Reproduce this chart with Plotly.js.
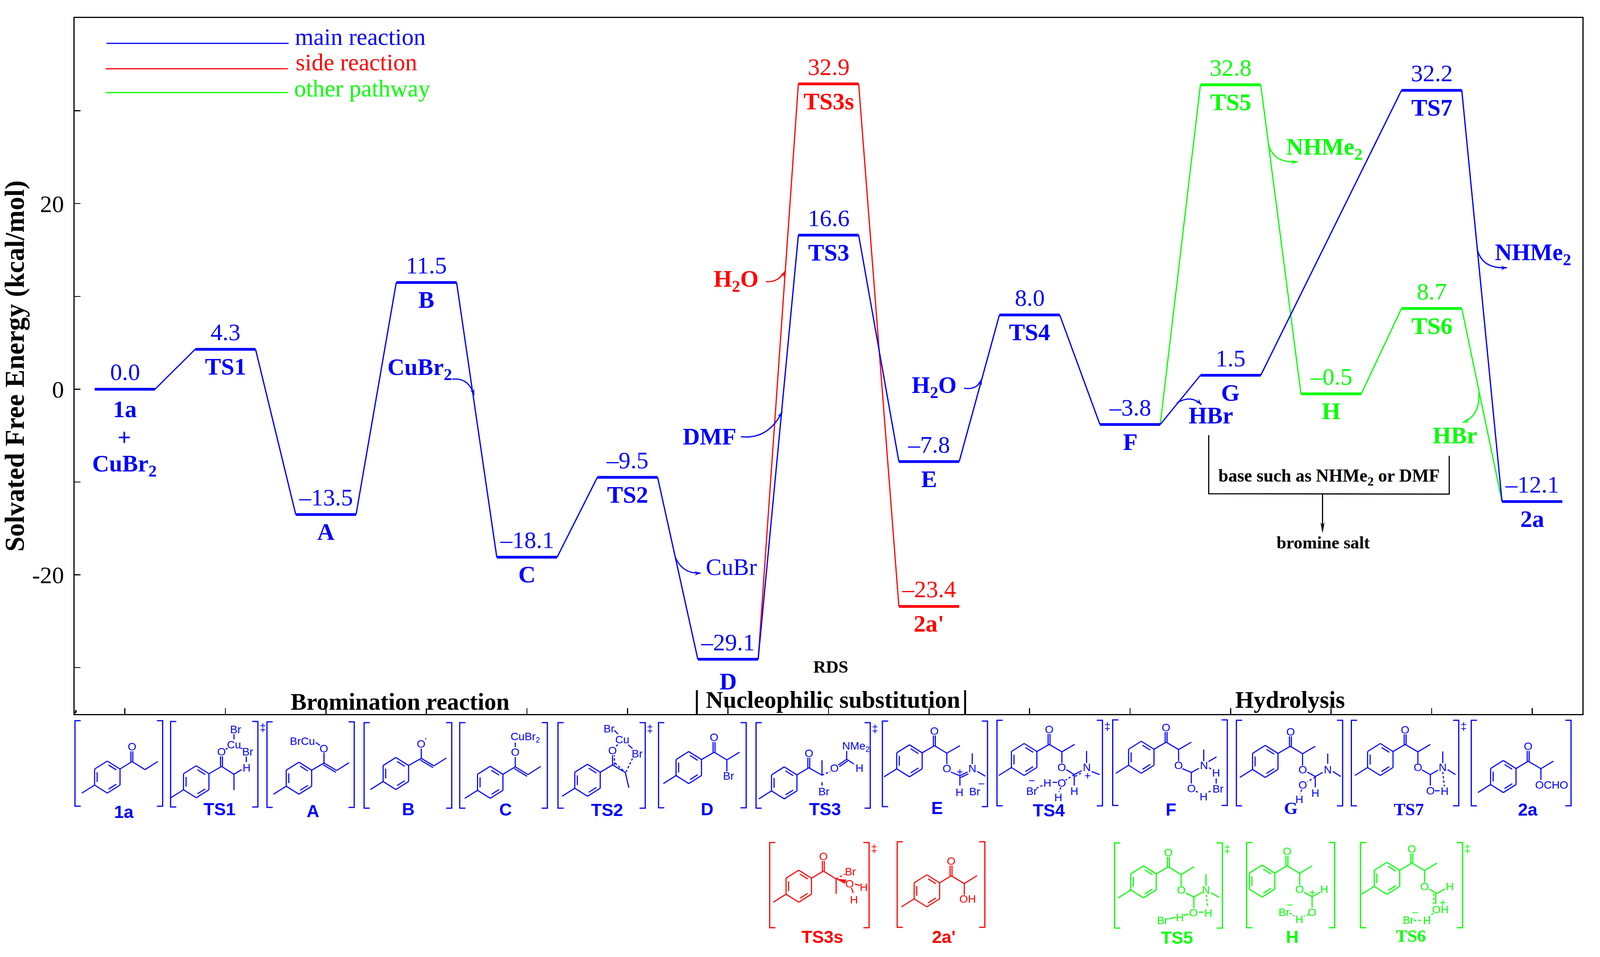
<!DOCTYPE html>
<html><head><meta charset="utf-8">
<script src="https://cdn.plot.ly/plotly-3.0.1.min.js"></script>
<style>html,body{margin:0;padding:0;background:#fff;overflow:hidden}</style></head>
<body><div id="chart"></div>
<script>
// ---------- chart data ----------
const mainX=[1,2,3,4,5,6,7,8,9,10,11,12,14,15];
const mainE=[0.0,4.3,-13.5,11.5,-18.1,-9.5,-29.1,16.6,-7.8,8.0,-3.8,1.5,32.2,-12.1];
const mainNames=['1a','TS1','A','B','C','TS2','D','TS3','E','TS4','F','G','TS7','2a'];
const sideX=[7,8,9];
const sideE=[-29.1,32.9,-23.4];
const sideNames=['','TS3s',"2a'"];
const otherX=[11,12,13,14,15];
const otherE=[-3.8,32.8,-0.5,8.7,-12.1];
const otherNames=['','TS5','H','TS6',''];
const yMajor=[-20,0,20];
const yMajorText=['-20','0','20'];
const yMinor=[-30,-10,10,30];
const xTicks=[1,2,3,4,5,6,7,8,9,10,11,12,13,14,15];
const legendNames=['main reaction','side reaction','other pathway'];

const BLUE='#0000ff',RED='#ff0000',GREEN='#00ff00',BLACK='#000000';
const SERIF='Liberation Serif, Times New Roman, serif',SANS='Liberation Sans, Arial, sans-serif';
// layout coordinates below are in reference pixels (4217x2450); the page fits them to the real window
const SX=Math.min(window.innerWidth/4217,1)||1, SY=Math.min(window.innerHeight/2450,1)||1;
const L=197,T=46,W=3974,H=1782,B=T+H,HALF=0.3;
const X=x=>(x-L)/W,Y=y=>(B-y)/H;
const shapes=[],ann=[];

// ---------- helpers ----------
function text(t,x,y,size,color,bold,fam,extra){
  ann.push(Object.assign({text:bold?'<b>'+t+'</b>':t,xref:'paper',yref:'paper',x:X(x),y:Y(y),showarrow:false,
    xanchor:'center',yanchor:'middle',font:{family:fam||SERIF,size:size*SX,color:color},borderpad:0},extra||{}));
}
const P=(x,y)=>X(x).toFixed(6)+','+Y(y).toFixed(6);
function path(d,color,w,dash,fill){
  shapes.push({type:'path',path:d,xref:'paper',yref:'paper',line:{color:color,width:w,dash:dash||'solid'},fillcolor:fill||'rgba(0,0,0,0)'});
}
function poly(pts,color,w,dash){
  let d='';for(let i=0;i<pts.length;i+=2)d+=(i?'L':'M')+P(pts[i],pts[i+1]);
  path(d,color,w,dash);
}
function head(x0,y0,x1,y1,color,len,wid){
  const a=Math.atan2(y1-y0,x1-x0),c=Math.cos(a),s=Math.sin(a);
  path('M'+P(x1,y1)+'L'+P(x1-len*c-wid*s,y1-len*s+wid*c)+'L'+P(x1-len*.7*c,y1-len*.7*s)+'L'+P(x1-len*c+wid*s,y1-len*s-wid*c)+'Z',color,0.5,null,color);
}
function curve(x0,y0,cx,cy,x1,y1,color){
  path('M'+P(x0,y0)+'Q'+P(cx,cy)+' '+P(x1,y1),color,3);
  head(cx,cy,x1,y1,color,15,5);
}

// ---------- energy levels via data axes ----------
function levelTrace(xs,es,color,skip){
  const x=[],y=[];
  xs.forEach((v,i)=>{ if(skip&&skip.includes(i))return; x.push(v-HALF,v+HALF,null); y.push(es[i],es[i],null); });
  return {x:x,y:y,mode:'lines',line:{color:color,width:7},hoverinfo:'skip',showlegend:false};
}
function linkTrace(xs,es,color,w){
  const x=[],y=[];
  xs.slice(0,-1).forEach((v,i)=>{ x.push(v+HALF,xs[i+1]-HALF,null); y.push(es[i],es[i+1],null); });
  return {x:x,y:y,mode:'lines',line:{color:color,width:w},hoverinfo:'skip',showlegend:false};
}
function levelLabels(xs,es,names,color){
  xs.forEach((v,i)=>{
    if(!names[i])return;
    ann.push({text:es[i].toFixed(1).replace('-','–'),x:v,y:es[i],xref:'x',yref:'y',yshift:44*SY,showarrow:false,xanchor:'center',yanchor:'middle',
      font:{family:SERIF,size:63*SX,color:color},borderpad:0});
    const off={'D':56,'1a':51}[names[i]]||44;
    ann.push({text:'<b>'+names[i]+'</b>',x:v,y:es[i],xref:'x',yref:'y',yshift:-off*SY,showarrow:false,xanchor:'center',yanchor:'middle',
      font:{family:SERIF,size:63*SX,color:color},borderpad:0});
  });
}
levelLabels(mainX,mainE,mainNames,BLUE);
levelLabels(sideX,sideE,sideNames,RED);
levelLabels(otherX,otherE,otherNames,GREEN);

// ---------- legend ----------
[[281,111,BLUE,777,94],[279,176,RED,779,159],[279,237,GREEN,775,226]].forEach((r,i)=>{
  poly([r[0],r[1],r[0]+480,r[1]],r[2],3);
  text(legendNames[i],r[3],r[4],63,r[2],false,SERIF,{xanchor:'left'});
});

// ---------- side annotations ----------
text('+',328,1119,62,BLUE,true);
text('CuBr<sub>2</sub>',328,1191,62,BLUE,true);
text('CuBr<sub>2</sub>',1107,944,62,BLUE,true);
curve(1192,971,1235,965,1250,1012,BLUE);
text('H<sub>2</sub>O',1941,718,62,RED,true);
curve(2019,721,2051,724,2070,694,RED);
text('DMF',1871,1117,62,BLUE,true);
curve(1953,1118,2025,1126,2062,1054,BLUE);
text('CuBr',1928,1451,62,BLUE);
curve(1780,1426,1799,1470,1847,1467,BLUE);
text('H<sub>2</sub>O',2462,990,62,BLUE,true);
curve(2541,994,2577,999,2588,970,BLUE);
text('NHMe<sub>2</sub>',3491,380,62,GREEN,true);
curve(3343,368,3356,419,3420,414,GREEN);
text('NHMe<sub>2</sub>',4041,650,62,BLUE,true);
curve(3894,639,3908,690,3972,685,BLUE);
text('HBr',3192,1063,62,BLUE,true);
curve(3102,1032,3139,1009,3167,1036,BLUE);
text('HBr',3835,1114,62,GREEN,true);
curve(3898,1006,3902,1063,3856,1082,GREEN);

// base bracket
poly([3186,1114,3186,1264,3820,1265,3820,1167],BLACK,3);
poly([3486,1265,3486,1350],BLACK,3);
head(3486,1265,3486,1364,BLACK,26,5);
text('base such as NHMe<sub>2</sub> or DMF',3503,1221,47,BLACK,true);
text('bromine salt',3488,1389,46,BLACK,true);

// section labels
text('RDS',2190,1707,46,BLACK,true);
text('Bromination reaction',1055,1796,63,BLACK,true);
text('Nucleophilic substitution',2196,1791,63,BLACK,true);
text('Hydrolysis',3400,1791,63,BLACK,true);
poly([1837,1767,1837,1828],BLACK,5);
poly([2544,1767,2544,1828],BLACK,5);
poly([201,1818,199,1826],BLACK,4);

// ---------- structures ----------
const Z={a:(x,y)=>[x*1500/1568,1700+y*750/1568],b:(x,y)=>[1500+x*1500/1568,1700+y*750/1568],c:(x,y)=>[2900+x*1317/1568,1700+y*750/1568]};
const HEX=[[0,-41],[33.5,-20.5],[33.5,20.5],[0,41],[-33.5,20.5],[-33.5,-20.5]];
function molecule(m,color){
  const z=Z[m.z],C=z(m.c[0],m.c[1]),sol=[],dsh=[];
  const seg=(a,b,arr)=>(arr||sol).push('M'+P(a[0],a[1])+'L'+P(b[0],b[1]));
  const zline=(p,arr)=>{for(let i=0;i+3<p.length;i+=2)seg(z(p[i],p[i+1]),z(p[i+2],p[i+3]),arr);};
  const dbl=(p,arr)=>{const a=z(p[0],p[1]),b=z(p[2],p[3]);const dx=b[0]-a[0],dy=b[1]-a[1],l=Math.hypot(dx,dy);
    const o=[-dy/l*5,dx/l*5];seg(a,b);seg([a[0]+o[0],a[1]+o[1]],[b[0]+o[0],b[1]+o[1]],arr);};
  const pts=HEX.map(h=>[C[0]+h[0],C[1]+h[1]]);
  for(let i=0;i<6;i++)seg(pts[i],pts[(i+1)%6]);
  [[0,1],[2,3],[4,5]].forEach(e=>{const a=HEX[e[0]],b=HEX[e[1]];
    const f=t=>[C[0]+(a[0]+(b[0]-a[0])*t)*.8,C[1]+(a[1]+(b[1]-a[1])*t)*.8];
    seg(f(.12),f(.88));});
  if(!m.noMe)seg(pts[4],[C[0]-67,C[1]+41]);
  const Cc=z(m.C[0],m.C[1]);
  seg(pts[1],Cc);
  if(m.o){ dbl([m.C[0]-3,m.C[1],m.C[0]-3,m.o+24]); text('O',z(m.C[0],m.o)[0],z(m.C[0],m.o)[1],29,color,false,SANS); }
  (m.b||[]).forEach(p=>zline(p));
  (m.d||[]).forEach(p=>dbl(p));
  (m.h||[]).forEach(p=>zline(p,dsh));
  (m.hd||[]).forEach(p=>{const a=p.slice(0,4);zline(a);const z0=z(a[0],a[1]),z1=z(a[2],a[3]);
    const dx=z1[0]-z0[0],dy=z1[1]-z0[1],l=Math.hypot(dx,dy);seg([z0[0]-dy/l*5,z0[1]+dx/l*5],[z1[0]-dy/l*5,z1[1]+dx/l*5],dsh);});
  (m.t||[]).forEach(r=>{const q=z(r[1],r[2]);text(r[0],q[0],q[1],r[3]||29,color,false,SANS);});
  path(sol.join(''),color,2.8);
  if(dsh.length)path(dsh.join(''),color,2.8,'6px,5px');
  if(m.w){const a=z(m.w[0],m.w[1]),b=z(m.w[2],m.w[3]);
    path('M'+P(a[0],a[1])+'L'+P(b[0]+2,b[1]-5)+'L'+P(b[0]-2,b[1]+5)+'Z',color,0.5,null,color);}
  // brackets
  const [bl,br,bt,bb]=m.br;
  poly([bl+15,bt,bl,bt,bl,bb,bl+15,bb],color,3);
  poly([br-15,bt,br,bt,br,bb,br-15,bb],color,3);
  if(m.dg)text('‡',br+13,bt+15,29,color,false,SANS);
  const lab=m.lab;
  text(lab[0],lab[1],lab[2],46,color,true,lab[3]||SANS);
}
const blueMols=[
 {z:'a',c:[296,605],C:[364,522],o:443,b:[[364,522,400,565,435,522]],br:[198,429,1845,2064],lab:['1a',327,2078]},
 {z:'a',c:[541,630],C:[611,548],o:470,b:[[611,548,645,590,666,565],[645,590,645,675],[645,375,645,403],[679,495,679,525]],h:[[622,457,628,449],[664,449,668,454]],
   t:[['Br',649,350],['Cu',645,432],['Br',683,470],['H',679,555]],br:[450,680,1847,2066],dg:1,lab:['TS1',579,2071]},
 {z:'a',c:[824,611],C:[893,530],b:[[893,530,893,475],[928,570,962,528],[870,420,882,435]],d:[[893,530,928,570]],t:[['O',893,453],['BrCu',833,412]],br:[704,934,1848,2067],lab:['A',825,2076]},
 {z:'a',c:[1091,586],C:[1161,505],b:[[1161,505,1161,452],[1196,545,1230,503]],d:[[1161,505,1196,545]],t:[['O',1161,427],['·',1173,397]],br:[960,1191,1850,2069],lab:['B',1076,2071]},
 {z:'a',c:[1351,633],C:[1420,550],b:[[1420,550,1420,498],[1420,420,1420,445],[1455,592,1490,548]],d:[[1420,550,1455,592]],t:[['O',1420,472],['CuBr<sub>2</sub>',1447,392]],br:[1212,1443,1850,2069],lab:['C',1333,2072]},
 {z:'b',c:[51,622],C:[120,540],b:[[155,580,165,662],[125,355,135,375],[163,432,175,452],[120,540,155,580]],
   hd:[[120,540,120,488]],h:[[130,440,137,425],[175,505,157,578],[127,530,150,570]],t:[['O',120,463],['Cu',147,405],['Br',110,347],['Br',188,480]],br:[1471,1701,1850,2069],dg:1,lab:['TS2',1600,2073]},
 {z:'b',c:[330,554],C:[400,472],o:393,b:[[400,472,435,513,470,472],[435,513,435,575]],t:[['Br',439,600]],br:[1736,1967,1850,2068],lab:['D',1864,2071]},
 {z:'b',c:[593,636],C:[661,555],o:477,b:[[661,555,697,595],[697,515,697,595],[697,632,697,650],[765,510,785,535],[765,510,765,465]],h:[[697,595,720,575]],d:[[742,540,765,510]],
   t:[['Br',702,682],['O',731,557],['H',800,558],['NMe<sub>2</sub>',790,443]],br:[1993,2294,1850,2069],dg:1,lab:['TS3',2175,2071]},
 {z:'b',c:[938,518],C:[1007,437],o:358,b:[[1007,437,1041,477,1077,437],[1041,477,1041,535],[1052,578,1077,598,1077,650],[1111,478,1111,535],[1125,575,1147,600]],d:[[1077,598,1098,578]],
   t:[['O',1041,560],['N',1111,560],['H',1076,686],['Br',1118,682],['−',1136,640],['+',1077,577]],br:[2326,2603,1846,2065],lab:['E',2470,2068]},
 {z:'b',c:[1254,511],C:[1323,430],o:350,b:[[1323,430,1358,470,1393,430],[1358,470,1358,530],[1370,565,1392,592,1392,650],[1426,465,1426,530],[1440,575,1462,592],[1332,633,1345,633]],
   hd:[[1392,592,1413,570]],h:[[1392,592,1368,622],[1288,665,1305,650],[1355,660,1350,685]],
   t:[['N',1426,553],['H',1392,680],['O',1358,637],['H',1318,637],['Br',1275,680],['−',1275,625],['+',1428,597],['O',1358,552],['H',1348,715]],br:[2628,2906,1844,2063],dg:1,lab:['TS4',2765,2074]},
 {z:'c',c:[129,499],C:[207,418],o:340,b:[[207,418,246,458,286,418],[246,458,246,520],[258,560,286,580,286,640],[286,580,310,558],[325,458,325,520],[340,522,365,497],[364,612,364,640]],
   h:[[300,680,310,690],[340,685,350,678],[342,555,350,565]],t:[['O',246,543],['N',325,543],['O',286,665],['H',324,710],['Br',370,668],['H',364,583]],br:[2933,3235,1843,2062],lab:['F',3086,2072]},
 {z:'c',c:[518,521],C:[597,440],o:362,b:[[597,440,635,480,675,440],[635,480,635,543],[650,578,675,602,675,660],[675,602,698,580],[714,480,714,533],[730,575,755,602]],
   h:[[675,605,650,630],[633,672,627,695]],t:[['O',635,565],['N',714,565],['H',675,690],['O',635,648],['H',625,725]],br:[3259,3539,1844,2063],lab:['G',3402,2069,SERIF]},
 {z:'c',c:[879,511],C:[957,430],o:352,b:[[957,430,997,470,1036,430],[997,470,997,532],[1010,567,1036,592,1036,650],[1036,592,1060,568],[1075,468,1075,530],[1090,565,1115,592],[1050,678,1065,678]],
   h:[[1075,577,1080,655]],t:[['O',997,553],['N',1075,553],['O',1036,678],['H',1080,680]],br:[3562,3845,1844,2063],dg:1,lab:['TS7',3713,2072,SERIF]},
 {z:'c',c:[1265,602],C:[1343,520],o:441,b:[[1343,520,1383,560,1422,520],[1383,560,1383,620]],t:[['OCHO',1416,648]],br:[3878,4141,1844,2063],lab:['2a',4027,2072]}
];
const redMols=[
 {z:'b',c:[633,1189],C:[701,1108],o:1030,b:[[701,1108,736,1150,736,1230],[788,1178,802,1185],[778,1197,783,1225]],w:[736,1150,762,1165],h:[[736,1150,760,1125]],
   t:[['Br',775,1112],['O',773,1175],['H',812,1195],['H',785,1262]],br:[2029,2291,2157,2375],dg:1,lab:['TS3s',2168,2398]},
 {z:'b',c:[986,1214],C:[1053,1133],o:1055,b:[[1053,1133,1089,1175,1124,1133],[1089,1175,1089,1235]],t:[['OH',1098,1258]],br:[2365,2596,2155,2374],lab:["2a'",2488,2398]}
];
const greenMols=[
 {z:'c',c:[136,1166],C:[214,1085],o:1008,b:[[214,1085,254,1127,294,1085],[254,1127,254,1188],[268,1225,294,1247,294,1305],[294,1247,320,1222],[332,1125,332,1188],[348,1225,373,1248],[310,1328,325,1328],[215,1365,237,1355],[262,1345,278,1338]],
   h:[[333,1235,338,1305]],t:[['O',254,1210],['N',332,1210],['O',293,1330],['H',339,1332],['H',249,1355],['Br',195,1373]],br:[2938,3222,2158,2376],dg:1,lab:['TS5',3102,2400]},
 {z:'c',c:[508,1162],noMe:1,C:[586,1080],o:1003,b:[[586,1080,626,1120,665,1080],[626,1120,626,1182],[640,1222,665,1245,665,1302],[665,1245,690,1222]],
   h:[[655,1342,640,1350],[595,1332,610,1350]],t:[['O',626,1205],['H',703,1205],['+',665,1222],['O',665,1328],['H',625,1367],['Br',577,1328],['−',595,1288]],br:[3286,3518,2157,2375],lab:['H',3406,2398]},
 {z:'c',c:[900,1147],C:[978,1065],o:990,b:[[978,1065,1018,1105,1057,1065],[1018,1105,1018,1168],[1032,1205,1057,1228],[1057,1228,1082,1203]],
   hd:[[1053,1228,1053,1285]],h:[[1045,1335,1030,1355],[985,1372,1010,1372]],t:[['O',1018,1190],['H',1096,1190],['OH',1067,1313],['+',1075,1277],['H',1025,1372],['Br',967,1370],['−',988,1330]],br:[3586,3855,2157,2375],dg:1,lab:['TS6',3719,2396,SERIF]}
];
blueMols.forEach(m=>molecule(m,BLUE));
redMols.forEach(m=>molecule(m,RED));
greenMols.forEach(m=>molecule(m,GREEN));

// ---------- figure ----------
const traces=[
 linkTrace(otherX,otherE,GREEN,3),levelTrace(otherX,otherE,GREEN,[0,4]),
 linkTrace(sideX,sideE,RED,3),levelTrace(sideX,sideE,RED,[0]),
 linkTrace(mainX,mainE,BLUE,3.2),levelTrace(mainX,mainE,BLUE)
];
const layout={
 width:4217*SX,height:2450*SY,margin:{l:L*SX,r:(4217-L-W)*SX,t:T*SY,b:(2450-B)*SY,pad:0},
 paper_bgcolor:'#fff',plot_bgcolor:'#fff',showlegend:false,
 xaxis:{range:[0.5,15.5],tickmode:'array',tickvals:xTicks,showticklabels:false,ticks:'inside',ticklen:15,tickwidth:2.5,tickcolor:BLACK,
   showline:true,linecolor:BLACK,linewidth:3,mirror:true,showgrid:false,zeroline:false},
 yaxis:{range:[-35,40],tickmode:'array',tickvals:yMajor,ticktext:yMajorText,ticks:'inside',ticklen:15,tickwidth:2.5,tickcolor:BLACK,
   minor:{tickmode:'array',tickvals:yMinor,ticks:'inside',ticklen:15,tickwidth:2.5,tickcolor:BLACK,showgrid:false},
   showline:true,linecolor:BLACK,linewidth:3,mirror:true,showgrid:false,zeroline:false,ticklabelstandoff:12,
   tickfont:{family:SERIF,size:63*SX,color:BLACK},
   title:{text:'<b>Solvated Free Energy (kcal/mol)</b>\u00a0\u00a0\u00a0\u00a0\u00a0',font:{family:SERIF,size:71*SX,color:BLACK},standoff:7}},
 annotations:ann,shapes:shapes
};
Plotly.newPlot('chart',traces,layout,{staticPlot:true,displayModeBar:false});
</script></body></html>
